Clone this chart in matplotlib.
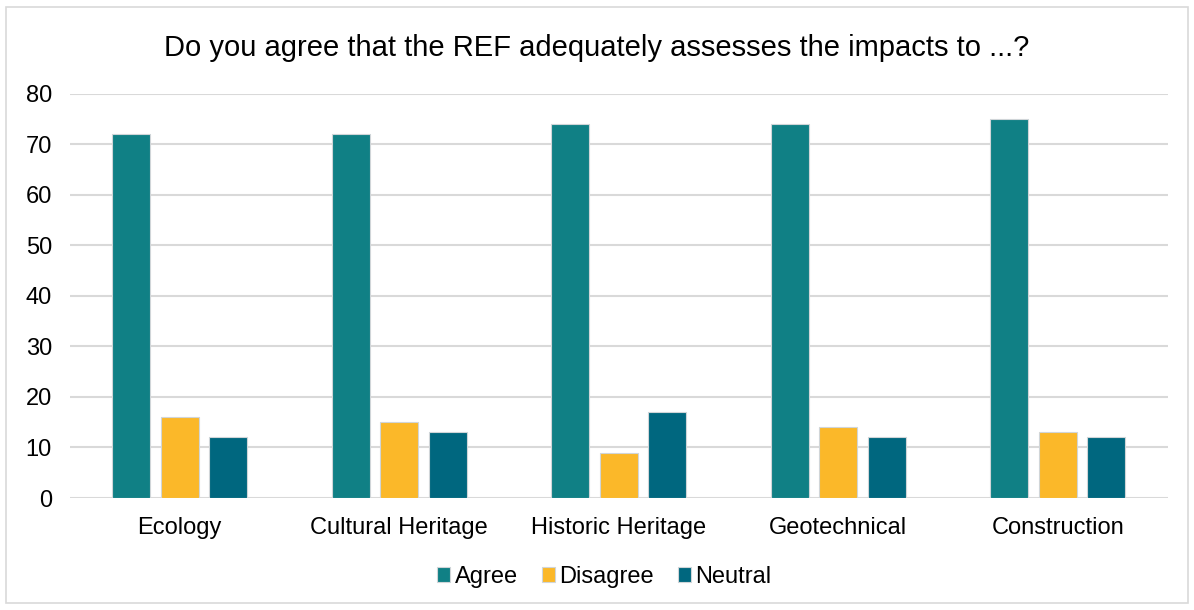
import numpy as np
import matplotlib.pyplot as plt

categorias = ['Ecology', 'Cultural Heritage', 'Historic Heritage', 'Geotechnical', 'Construction']
agree = [72, 72, 74, 74, 75]
disagree = [16, 15, 9, 14, 13]
neutral = [12, 13, 17, 12, 12]

plt.rcParams['font.family'] = ['Liberation Sans', 'DejaVu Sans']

fig = plt.figure(figsize=(11.94, 6.10), dpi=100)
ax = fig.add_axes([0.0586, 0.1836, 0.9194, 0.6624])

x = np.arange(len(categorias))
w = 0.173
sep = 0.221
series = [('Agree', agree, '#108085'), ('Disagree', disagree, '#FBB829'), ('Neutral', neutral, '#00677F')]
for i, (nombre, vals, col) in enumerate(series):
    ax.bar(x + (i - 1) * sep, vals, w, color=col, edgecolor='#D0D5D8', linewidth=0.8, label=nombre, zorder=3)

ax.set_xlim(-0.5, len(categorias) - 0.5)
ax.set_ylim(0, 80)
ax.set_yticks(range(0, 81, 10))
ax.set_xticks(x)
ax.set_xticklabels(categorias, fontsize=17)
ax.tick_params(axis='y', labelsize=17, length=0, pad=13)
ax.tick_params(axis='x', length=0, pad=14)
ax.grid(axis='y', color='#D9D9D9', linewidth=1.5, zorder=0)
for s in ax.spines.values():
    s.set_visible(False)

fig.text(0.5, 0.921, 'Do you agree that the REF adequately assesses the impacts to ...?',
         ha='center', va='center', fontsize=21)

ax.legend(loc='center', bbox_to_anchor=(0.487, -0.195), ncol=3, frameon=False, fontsize=17,
          handlelength=0.55, handleheight=0.55, handletextpad=0.2, columnspacing=1.0)

fig.patches.append(plt.Rectangle((6 / 1194, 7 / 610), 1182 / 1194, 596 / 610, transform=fig.transFigure,
                                 fill=False, edgecolor='#D9D9D9', linewidth=1.2))

fig.savefig('out.png', dpi=100)
